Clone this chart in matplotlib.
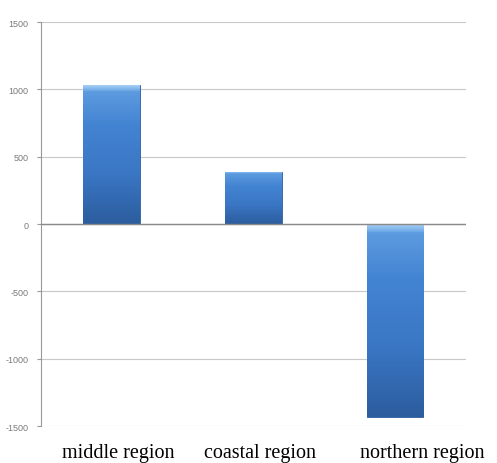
import numpy as np
import matplotlib.pyplot as plt
import matplotlib.transforms as mtransforms
from matplotlib.colors import LinearSegmentedColormap

# data
regions = ["middle region", "coastal region", "northern region"]
values = [1030, 388, -1433]
yticks = [-1500, -1000, -500, 0, 500, 1000, 1500]

fig = plt.figure(figsize=(4.97, 4.64), dpi=100)
ax = fig.add_axes([0.0825, 0.0797, 0.855, 0.8707])

x = np.arange(len(regions))
bars = ax.bar(x, values, width=0.4, color="#3b77c6", edgecolor="#2d5e9e",
              linewidth=0.6, zorder=3)

# vertical shading on each bar, lighter at the top edge
cmap = LinearSegmentedColormap.from_list(
    "barshade", ["#2c5d9e", "#3a76c4", "#4384d2", "#6aa6e6", "#a8d0f5"])
grad = np.linspace(0, 1, 256).reshape(-1, 1)
# most of the bar stays mid blue, only the last few pixels turn light
grad = np.where(grad > 0.96, 0.75 + (grad - 0.96) * 6, grad * 0.7)
for b, v in zip(bars, values):
    x0, w = b.get_x(), b.get_width()
    lo, hi = min(0, v), max(0, v)
    im = ax.imshow(grad, extent=[x0, x0 + w, lo, hi], origin="lower",
                   cmap=cmap, vmin=0, vmax=1, aspect="auto", zorder=3.5)
    im.set_clip_path(b)

ax.set_xlim(-0.5, 2.5)
ax.set_ylim(-1500, 1500)
ax.set_yticks(yticks)
ax.set_yticklabels([str(t) for t in yticks], color="#7a7a7a",
                   family="Liberation Sans")
ax.tick_params(axis="y", length=3, color="#999999", pad=6, labelsize=6.5)

ax.yaxis.grid(True, color="#c8c8c8", linewidth=0.8, zorder=0)
ax.axhline(0, color="#8a8a8a", linewidth=1.0, zorder=4)

for s in ["top", "right", "bottom"]:
    ax.spines[s].set_visible(False)
ax.spines["left"].set_color("#999999")

ax.set_xticks(x)
ax.set_xticklabels(regions, fontsize=14.5, family="Liberation Serif", color="black")
ax.tick_params(axis="x", length=0, pad=12)

# the category labels sit a little right of the bars in the original
shifts = [6, 7, 27]
for lab, dx in zip(ax.get_xticklabels(), shifts):
    lab.set_transform(lab.get_transform() +
                      mtransforms.ScaledTranslation(dx / 100, 0, fig.dpi_scale_trans))

fig.savefig("out.png", dpi=100)
